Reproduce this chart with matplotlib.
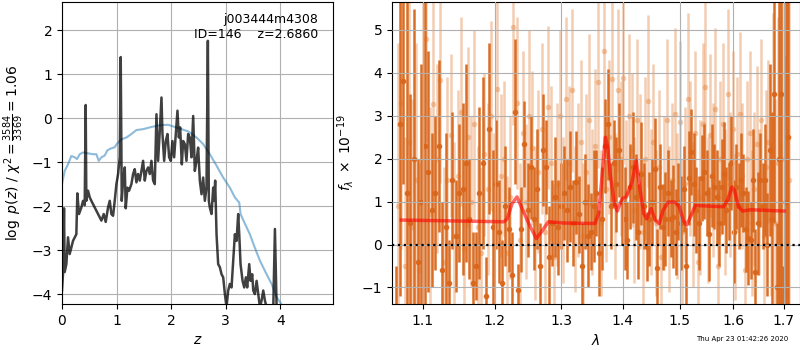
import numpy as np
import matplotlib
matplotlib.use('Agg')
import matplotlib.pyplot as plt
from matplotlib.ticker import FixedLocator, FixedFormatter, NullLocator

# redshift fit, log p(z) (traced)
z_pdf = [0.000, 0.018, 0.037, 0.049, 0.080, 0.110, 0.141, 0.171, 0.202, 0.263,
         0.281, 0.312, 0.355, 0.385, 0.416, 0.434, 0.446, 0.477, 0.508, 0.538,
         0.599, 0.661, 0.722, 0.765, 0.801, 0.844, 0.875, 0.905, 0.936, 0.966,
         0.997, 1.028, 1.058, 1.076, 1.095, 1.119, 1.150, 1.168, 1.199, 1.229,
         1.272, 1.303, 1.333, 1.364, 1.394, 1.425, 1.456, 1.486, 1.517, 1.547,
         1.578, 1.609, 1.639, 1.670, 1.700, 1.731, 1.761, 1.792, 1.823, 1.841,
         1.872, 1.902, 1.933, 1.963, 1.994, 2.024, 2.055, 2.086, 2.116, 2.141,
         2.165, 2.196, 2.220, 2.251, 2.281, 2.312, 2.343, 2.373, 2.404, 2.434,
         2.465, 2.495, 2.526, 2.557, 2.587, 2.618, 2.648, 2.673, 2.691, 2.709,
         2.740, 2.771, 2.789, 2.807, 2.832, 2.862, 2.893, 2.924, 2.954, 2.985,
         3.015, 3.046, 3.076, 3.107, 3.138, 3.168, 3.199, 3.229, 3.248, 3.272,
         3.309, 3.339, 3.370, 3.394, 3.431, 3.456, 3.486, 3.505, 3.535, 3.566,
         3.596, 3.627, 3.657, 3.688, 3.719, 3.749, 3.800, 3.872, 3.902, 3.933,
         4.000]
logp = [-3.92, -3.55, -2.05, -3.50, -3.32, -2.71, -3.09, -2.94, -2.79, -2.64,
        -1.71, -2.18, -2.03, -1.88, -1.98, 0.30, -1.88, -1.65, -1.80, -1.88,
        -2.03, -2.18, -2.33, -2.18, -2.36, -2.03, -1.88, -2.18, -2.22, -1.88,
        -1.50, -1.27, -0.89, 1.39, -1.88, -1.42, -1.12, -2.05, -1.58, -1.65,
        -1.50, -1.27, -1.16, -1.46, -1.27, -1.42, -1.20, -0.97, -1.42, -1.20,
        -1.12, -1.27, -0.97, -1.42, -1.50, 0.09, -0.97, -0.29, 0.47, -0.36,
        -0.97, -0.52, -0.36, -0.89, -0.97, -0.52, -0.89, -0.36, 0.17, -0.44,
        -0.21, -1.05, -0.52, -0.59, -0.97, -0.36, -0.44, -0.89, 0.05, -1.20,
        -0.97, -0.67, -1.42, -1.73, -1.35, -1.88, -1.58, 1.76, -1.88, -2.03,
        -2.18, -1.58, -1.88, -1.42, -2.64, -3.32, -3.39, -3.55, -3.62, -4.00,
        -4.30, -3.92, -3.77, -3.85, -3.24, -2.64, -2.79, -2.18, -2.64, -3.32,
        -3.70, -3.85, -3.62, -3.85, -3.32, -3.70, -3.55, -3.92, -4.00, -3.70,
        -4.00, -4.30, -4.15, -3.92, -4.15, -4.30, -4.40, -4.30, -2.52, -4.30,
        -4.60]

# chi2 curve
z_chi = [0.000, 0.049, 0.110, 0.171, 0.233, 0.275, 0.324, 0.385, 0.477, 0.569,
         0.630, 0.673, 0.722, 0.783, 0.826, 0.875, 0.966, 1.009, 1.089, 1.180,
         1.272, 1.364, 1.486, 1.639, 1.792, 1.945, 2.067, 2.190, 2.312, 2.465,
         2.587, 2.709, 2.832, 2.954, 3.076, 3.168, 3.248, 3.272, 3.352, 3.443,
         3.535, 3.627, 3.749, 3.841, 3.933, 4.024]
chi_curve = [-1.50, -1.20, -1.05, -0.86, -0.89, -0.93, -0.82, -0.78, -0.80, -0.82,
             -0.82, -0.97, -0.89, -0.85, -0.74, -0.70, -0.66, -0.58, -0.48, -0.44,
             -0.36, -0.27, -0.25, -0.20, -0.16, -0.15, -0.20, -0.25, -0.30, -0.44,
             -0.59, -0.82, -1.08, -1.35, -1.58, -1.80, -1.92, -2.18, -2.40, -2.64,
             -2.95, -3.24, -3.55, -3.77, -4.07, -4.24]

# spectrum, two sets of grism pixels (f_lambda / 1e-19)
wave0_a = 1.0650
wave0_b = 1.0674
dwave = 0.0047
flux_a = [-1.9, 2.8, 3.8, 1.2, 0.5, 2.0, -0.4, 1.0, 2.3, 1.7,
          0.8, 1.2, 2.3, -0.6, 0.4, -0.9, 1.5, 0.2, 1.2, 1.3,
          1.9, 0.6, -0.9, -0.5, 1.2, 1.9, -1.2, 2.7, 0.4, 1.4,
          0.3, -0.9, 0.9, 0.35, -0.7, 3.1, -1.06, 0.35, 2.35, 0.8,
          1.8, 0.6, 1.3, -0.5, 2.2, 1.8, -0.3, 0.5, 1.1, 0.4,
          0.9, 1.2, 0.8, 1.35, 0.5, 1.45, 0.7, -0.5, 1.0, 0.2,
          0.3, 0.9, 1.2, -0.2, 0.6, 2.3, 2.8, 0.9, 1.9, 1.4,
          2.2, 1.0, 0.6, 0.1, 1.35, 1.8, 1.1, 0.3, 1.65, 0.9,
          -0.05, 0.6, 1.0, 1.75, -0.55, 1.35, 0.4, 0.6, 1.2, 0.6,
          0.65, 0.3, 1.0, 0.5, 1.3, -0.5, 1.55, 2.15, 1.4, 0.8,
          0.5, 1.55, 1.7, 1.2, 0.25, 1.6, 1.35, 1.1, 0.5, 1.35,
          1.65, 0.8, 1.0, 1.9, 0.3, 1.35, 0.9, 1.5, 1.2, 0.35,
          0.15, 0.1, 1.5, -0.65, 0.5, 1.5, 0.9, 1.5, 0.0, 2.2,
          0.6, 3.5, -1.0, 2.0, 3.5, -2.0, 1.0, 2.5]
err_a = [1.4, 4.0, 2.4, 4.5, 3.0, 3.5, 2.4, 3.2, 4.0, 2.8,
         1.8, 1.8, 2.0, 1.6, 2.2, 1.0, 1.6, 1.3, 1.6, 2.0,
         2.3, 1.4, 1.2, 0.8, 2.0, 2.0, 0.9, 2.0, 1.8, 1.5,
         1.2, 1.0, 1.4, 1.0, 1.0, 1.7, 0.6, 1.0, 1.0, 1.1,
         1.2, 1.2, 1.4, 1.0, 1.3, 1.1, 1.2, 1.0, 1.4, 1.1,
         1.0, 1.1, 1.2, 1.3, 1.0, 1.2, 0.9, 1.0, 1.1, 1.2,
         0.9, 1.3, 1.0, 1.0, 1.2, 1.1, 1.3, 1.0, 1.0, 1.1,
         1.1, 1.0, 1.2, 0.9, 1.0, 1.3, 1.0, 1.1, 1.2, 1.0,
         0.8, 1.1, 1.0, 1.2, 0.9, 1.0, 1.0, 1.1, 1.0, 0.9,
         1.2, 1.0, 0.9, 1.1, 1.0, 0.9, 1.1, 1.0, 1.2, 1.0,
         1.1, 1.0, 1.1, 1.0, 1.1, 1.2, 1.0, 1.1, 1.0, 1.1,
         1.2, 1.0, 0.9, 1.1, 1.2, 1.0, 1.0, 1.1, 0.9, 1.0,
         1.1, 0.9, 1.2, 1.0, 1.2, 1.1, 1.0, 1.3, 1.2, 2.0,
         2.5, 3.0, 1.5, 5.0, 5.0, 1.5, 6.0, 6.0]
flux_b = [0.9, 3.3, -0.5, 2.4, 0.4, 1.5, -0.6, 3.0, 4.8, 0.7,
          3.27, 2.0, 3.83, -0.4, 1.5, 2.55, 0.2, 1.6, 3.1, -0.1,
          2.5, 1.0, 2.8, 0.4, -0.2, 2.1, 1.3, 3.0, 0.8, 3.63,
          1.6, 2.0, -0.2, 1.1, 5.08, 3.3, 0.1, 2.6, 1.0, 3.0,
          2.25, 0.5, 1.7, 2.7, 0.3, 3.2, 1.9, -0.3, 1.4, 3.0,
          0.8, 3.4, 1.9, 3.6, 0.6, 1.5, 2.4, 0.2, 1.7, 2.9,
          1.0, 2.3, 3.78, 0.5, 4.51, 1.3, 2.5, 3.85, 0.9, 3.6,
          2.0, 3.88, 1.2, 3.0, 2.2, 0.8, 2.9, 1.7, 0.3, 2.0,
          3.35, 1.0, 2.4, 0.5, 1.8, -0.3, 1.2, 2.9, 0.6, 1.5,
          3.05, 0.9, 2.85, 0.3, 1.4, 3.4, 2.0, 0.7, 2.6, -0.4,
          1.1, 2.8, 3.68, 0.8, 2.55, 1.5, 3.15, -0.5, 2.0, 2.8,
          1.0, 3.5, 1.4, 2.7, 0.4, 2.1, 3.05, 1.6, -0.6, 2.0,
          2.6, 0.5, 1.3, 2.35, 1.0, 2.9, 0.2, 1.8, 2.4, 0.6,
          3.0, 0.5, 1.9, 0.0, 2.0, 1.0, 2.0, 1.5]
err_b = [3.8, 3.4, 3.0, 3.4, 3.0, 3.2, 2.5, 2.9, 2.4, 2.5,
         2.4, 2.2, 2.4, 2.2, 2.4, 1.9, 2.2, 2.0, 2.2, 2.0,
         2.1, 2.0, 2.2, 1.9, 2.0, 1.9, 2.0, 2.2, 1.8, 2.2,
         1.9, 1.8, 1.8, 1.9, 2.3, 2.0, 1.8, 1.9, 1.8, 2.0,
         1.8, 1.8, 1.9, 2.0, 1.7, 1.9, 1.8, 1.7, 1.9, 2.0,
         1.7, 1.9, 1.8, 1.9, 1.7, 1.8, 1.9, 1.7, 1.8, 2.0,
         1.7, 1.8, 2.0, 1.7, 2.2, 1.7, 1.8, 2.0, 1.7, 1.9,
         1.8, 2.0, 1.7, 1.9, 1.8, 1.7, 1.9, 1.8, 1.7, 1.9,
         2.0, 1.7, 1.8, 1.7, 1.8, 1.7, 1.8, 1.9, 1.7, 1.8,
         2.0, 1.7, 1.9, 1.7, 1.8, 2.0, 1.8, 1.7, 1.9, 1.7,
         1.8, 1.9, 2.0, 1.7, 1.9, 1.8, 1.9, 1.7, 1.8, 1.9,
         1.7, 2.0, 1.7, 1.8, 1.7, 1.8, 1.9, 1.7, 1.6, 1.8,
         1.9, 1.7, 1.8, 1.8, 1.7, 1.9, 1.7, 1.8, 1.9, 1.8,
         2.4, 2.9, 3.4, 2.4, 3.9, 3.4, 3.9, 4.4]

# best-fit model
wave_model = [1.072, 1.213, 1.218, 1.225, 1.2325, 1.240, 1.250, 1.2615, 1.2676, 1.280,
              1.304, 1.354, 1.360, 1.365, 1.371, 1.375, 1.379, 1.386, 1.391, 1.399,
              1.406, 1.416, 1.423, 1.429, 1.436, 1.441, 1.449, 1.456, 1.463, 1.470,
              1.479, 1.491, 1.499, 1.506, 1.512, 1.519, 1.528, 1.581, 1.590, 1.597,
              1.602, 1.610, 1.618, 1.633, 1.701]
flux_model = [0.57, 0.53, 0.60, 0.95, 1.11, 0.84, 0.49, 0.14, 0.26, 0.53,
              0.50, 0.49, 0.72, 1.50, 2.50, 2.27, 1.65, 0.95, 0.78, 1.07,
              1.11, 1.46, 1.96, 1.34, 0.72, 0.60, 0.84, 0.57, 0.49, 0.80,
              0.99, 0.99, 0.88, 0.57, 0.45, 0.64, 0.91, 0.88, 1.07, 1.34,
              1.26, 0.88, 0.78, 0.81, 0.78]

root = 'j003444m4308'
obj_id = 146
z_best = 2.6860
chi2_num, chi2_den = 3584, 3369
timestamp = 'Thu Apr 23 01:42:26 2020'

fig = plt.figure(figsize=(8, 3.5), dpi=100)

ax = fig.add_axes([0.0775, 0.131, 0.339, 0.863])
ax.plot(z_chi, chi_curve, color='tab:blue', alpha=0.5, lw=1.5)
ax.plot(z_pdf, logp, color='k', alpha=0.75, lw=1.8)
ax.set_xlim(0, 4.97)
ax.set_ylim(-4.23, 2.64)
ax.set_xticks([0, 1, 2, 3, 4])
ax.set_yticks([-4, -3, -2, -1, 0, 1, 2])
ax.grid()
ax.set_xlabel(r'$z$')
ax.set_ylabel(r'$\log\ p(z)$ / $\chi^2=\frac{%d}{%d}=%.2f$'
              % (chi2_num, chi2_den, chi2_num / chi2_den))
ax.text(0.945, 0.965, '%s\nID=%d    z=%.4f' % (root, obj_id, z_best),
        ha='right', va='top', transform=ax.transAxes, fontsize=9)

ax = fig.add_axes([0.49, 0.131, 0.5095, 0.863])
wave_a = wave0_a + dwave * np.arange(len(flux_a))
wave_b = wave0_b + dwave * np.arange(len(flux_b))
ax.errorbar(wave_b, flux_b, yerr=err_b, marker='o', ms=4, linestyle='none',
            color='#e07020', alpha=0.35, elinewidth=1.8, mew=0, zorder=1.8)
ax.errorbar(wave_a, flux_a, yerr=err_a, marker='o', ms=4, linestyle='none',
            color='#d9661b', alpha=0.95, elinewidth=1.8, mew=0, zorder=1.9)
ax.plot(wave_model, flux_model, color='r', alpha=0.6, lw=2.5, zorder=3)
ax.axhline(0, color='k', linestyle=':', lw=1.6, zorder=3)
ax.set_xscale('log')
ax.set_xlim(1.060, 1.733)
ax.set_ylim(-1.39, 5.65)
ax.xaxis.set_major_locator(FixedLocator([1.1, 1.2, 1.3, 1.4, 1.5, 1.6, 1.7]))
ax.xaxis.set_major_formatter(FixedFormatter(['1.1', '1.2', '1.3', '1.4', '1.5', '1.6', '1.7']))
ax.xaxis.set_minor_locator(NullLocator())
ax.set_yticks([-1, 0, 1, 2, 3, 4, 5])
ax.set_axisbelow(False)
ax.grid(zorder=2.5)
ax.set_xlabel(r'$\lambda$')
ax.set_ylabel(r'$f_\lambda\ \times\ 10^{-19}$')

fig.text(0.985, 0.031, timestamp, ha='right', va='center', fontsize=5)

fig.savefig('out.png', dpi=100)
